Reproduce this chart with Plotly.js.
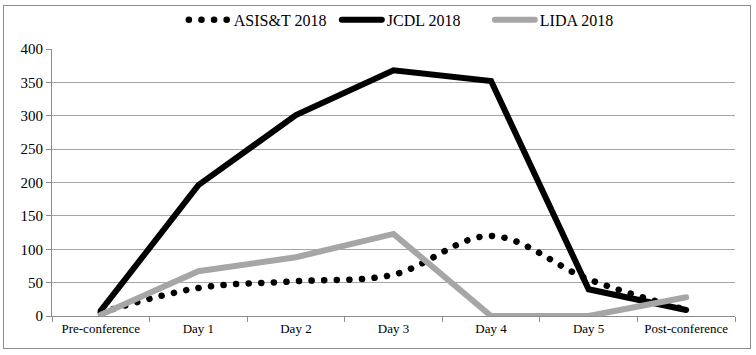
<!DOCTYPE html>
<html>
<head>
<meta charset="utf-8">
<script src="https://cdn.plot.ly/plotly-3.0.1.min.js"></script>
<style>
html,body{margin:0;padding:0;background:#fff;}
#frame{position:absolute;left:3px;top:5px;width:746px;height:342px;border:1px solid #8c8c8c;pointer-events:none;z-index:5;}
#chart{position:absolute;left:0;top:0;width:756px;height:355px;}
path.js-line{stroke-linecap:round;}
</style>
</head>
<body>
<div id="chart"></div>
<div id="frame"></div>
<script>
const categories = ["Pre-conference","Day 1","Day 2","Day 3","Day 4","Day 5","Post-conference"];
const asist2018 = [5, 42, 52, 62, 120, 55, 9];
const jcdl2018 = [8, 196, 301, 368, 352, 40, 9];
const lida2018 = [2, 67, 88, 123, 0, 0, 28];
const yTicks = [0, 50, 100, 150, 200, 250, 300, 350, 400];

const font = "Liberation Serif, Times New Roman, serif";

const traces = [
  {x: categories, y: asist2018, name: "ASIS&T 2018", type: "scatter", mode: "lines",
   line: {color: "#000000", width: 6.5, dash: "0.1px,12.5px", shape: "spline", smoothing: 1}},
  {x: categories, y: jcdl2018, name: "JCDL 2018", type: "scatter", mode: "lines",
   line: {color: "#000000", width: 6}},
  {x: categories, y: lida2018, name: "LIDA 2018", type: "scatter", mode: "lines",
   line: {color: "#a6a6a6", width: 6}}
];

const layout = {
  width: 756, height: 355,
  margin: {l: 52, r: 21, t: 49, b: 39},
  paper_bgcolor: "#ffffff", plot_bgcolor: "#ffffff",
  font: {family: font, color: "#000000"},
  showlegend: true,
  legend: {orientation: "h", x: 0.193, xanchor: "left", xref: "paper", y: 0.944, yref: "container", yanchor: "middle",
           font: {family: font, size: 16, color: "#000"}, itemwidth: 40, tracegroupgap: 0, bgcolor: "rgba(0,0,0,0)",
           entrywidth: 98, entrywidthmode: "pixels"},
  xaxis: {type: "category", range: [-0.5, 6.5], showgrid: false, showline: true, linecolor: "#8c8c8c", linewidth: 1,
          ticks: "outside", tickson: "boundaries", ticklen: 5, tickcolor: "#8c8c8c",
          tickfont: {family: font, size: 13, color: "#000"}, zeroline: false, fixedrange: true},
  yaxis: {range: [0, 400], tickvals: yTicks, showgrid: true, gridcolor: "#a6a6a6", gridwidth: 1,
          showline: true, linecolor: "#8c8c8c", linewidth: 1, ticks: "outside", ticklen: 5, tickcolor: "#8c8c8c",
          tickfont: {family: font, size: 15, color: "#000"}, zeroline: false, fixedrange: true}
};

Plotly.newPlot("chart", traces, layout, {displayModeBar: false, staticPlot: true});
</script>
</body>
</html>
